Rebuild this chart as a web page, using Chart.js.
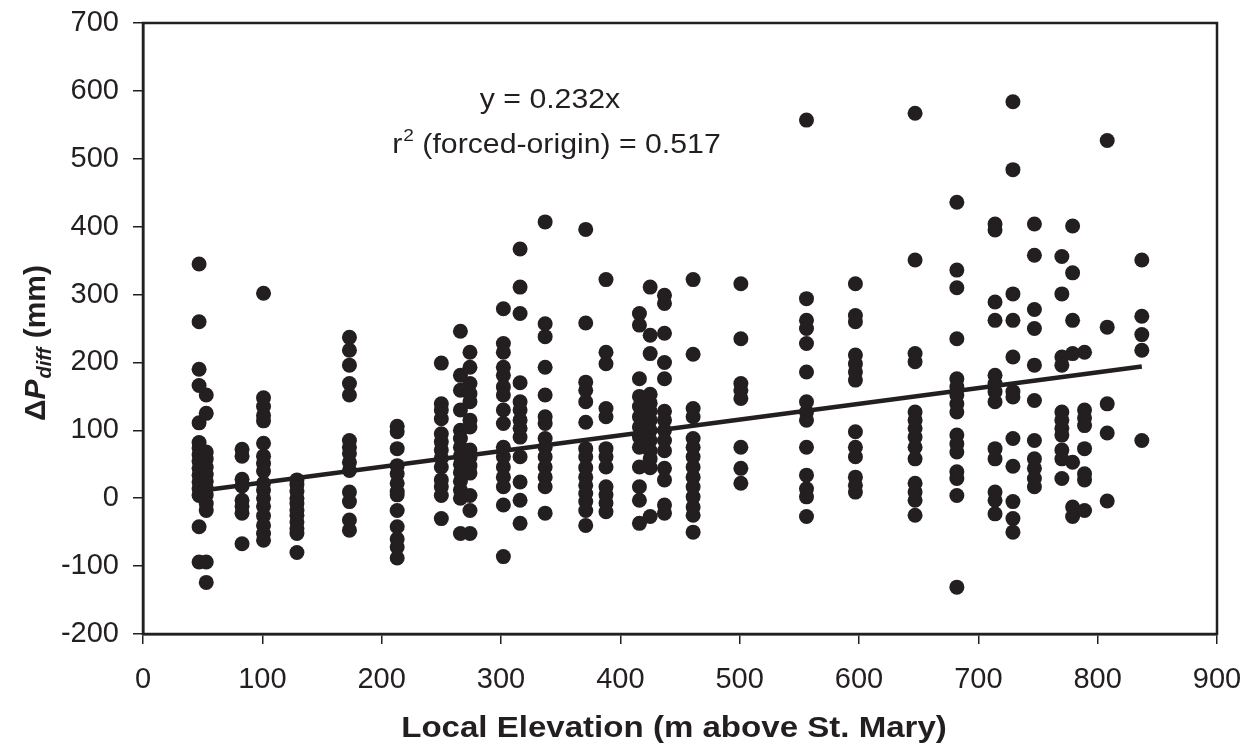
<!DOCTYPE html>
<html>
<head>
<meta charset="utf-8">
<script src="https://cdn.jsdelivr.net/npm/chart.js@4.4.1/dist/chart.umd.min.js"></script>
<style>
  html, body { margin: 0; padding: 0; background: #fff; }
  canvas { display: block; }
</style>
</head>
<body>
<canvas id="elevChart" width="1252" height="744"></canvas>
<script>
// elevation of each station column (m above St. Mary)
const elevations = [47, 53, 83, 101, 129, 173, 213, 250, 266, 274, 302, 316, 337, 371, 388, 416, 425, 437,
    461, 501, 556, 597, 647, 682, 714, 729, 747, 770, 779, 789, 808, 837];

// delta P diff values (mm) for each column above
const deltaP = [
    [345, 260, 190, 166, 111, 82, 74, 64, 54, 44, 34, 24, 14, 4, -42, -94],
    [152, 125, 68, 58, 46, 35, 25, 15, 5, -8, -18, -94, -124],
    [72, 62, 28, 18, -3, -12, -22, -67],
    [302, 148, 135, 122, 114, 81, 62, 51, 40, 22, 12, 0, -12, -26, -40, -52, -62],
    [27, 20, 10, 0, -8, -18, -25, -35, -45, -52, -80],
    [237, 218, 196, 169, 152, 85, 75, 66, 53, 41, 9, -5, -32, -47],
    [106, 98, 73, 48, 36, 22, 10, 5, -18, -42, -60, -72, -88],
    [199, 139, 130, 117, 95, 83, 71, 59, 46, 27, 17, 4, -30],
    [246, 181, 159, 130, 100, 88, 75, 62, 50, 38, 25, 12, 0, -52],
    [215, 193, 169, 154, 142, 115, 105, 71, 60, 48, 37, 4, -18, -52],
    [279, 228, 215, 193, 181, 164, 152, 130, 110, 75, 61, 46, 31, 17, -10, -86],
    [367, 311, 272, 170, 142, 130, 115, 103, 90, 61, 24, -3, -37],
    [407, 257, 238, 193, 152, 120, 110, 88, 75, 61, 46, 31, 17, -22],
    [396, 258, 171, 159, 142, 112, 73, 61, 45, 31, 19, 7, -5, -18, -40],
    [322, 215, 198, 132, 120, 73, 61, 46, 17, 5, -7, -20],
    [272, 255, 176, 150, 135, 120, 105, 90, 75, 46, 17, -3, -37],
    [311, 240, 213, 153, 140, 128, 115, 100, 85, 70, 58, 45, -27],
    [299, 287, 243, 200, 176, 128, 115, 100, 85, 70, 44, 27, -10, -22],
    [322, 212, 132, 120, 88, 75, 61, 46, 31, 17, 2, -13, -25, -50],
    [316, 235, 169, 159, 147, 75, 44, 22],
    [557, 294, 262, 250, 228, 186, 142, 127, 115, 75, 34, 14, 2, -27],
    [316, 269, 260, 211, 198, 186, 174, 98, 75, 61, 31, 19, 9],
    [567, 351, 213, 201, 127, 115, 103, 90, 75, 58, 22, 9, -3, -25],
    [436, 336, 310, 235, 176, 164, 152, 139, 127, 93, 80, 68, 39, 29, 4, -131],
    [404, 395, 289, 262, 181, 169, 157, 142, 73, 58, 9, -3, -23],
    [584, 484, 301, 262, 208, 157, 149, 88, 47, -5, -30, -50],
    [404, 358, 278, 250, 196, 144, 85, 58, 44, 29, 17],
    [356, 301, 208, 196, 127, 115, 103, 93, 71, 58, 29],
    [401, 332, 262, 213, 53, -13, -27],
    [215, 130, 118, 107, 73, 36, 27, -18],
    [527, 252, 139, 96, -4],
    [351, 268, 241, 218, 85]
];

// forced-origin regression line end points
const fitX = [53, 837];
const fitY = [12, 194];

const xRange = [0, 900];
const yRange = [-200, 700];
const tickStep = 100;

const ink = '#231f20';
const fontFamily = '"Liberation Sans", Arial, Helvetica, sans-serif';

const points = [];
elevations.forEach((x, i) => {
    deltaP[i].forEach(y => points.push({ x: x, y: y }));
});
const fitLine = fitX.map((x, i) => ({ x: x, y: fitY[i] }));

// draws text stretched horizontally
function stretchText(ctx, text, x, y, font, sx, align) {
    ctx.save();
    ctx.font = font;
    ctx.translate(x, y);
    ctx.scale(sx, 1);
    ctx.textAlign = align || 'left';
    ctx.textBaseline = 'alphabetic';
    ctx.fillText(text, 0, 0);
    ctx.restore();
}

const framePlugin = {
    id: 'frame',
    afterDraw(chart) {
        const ctx = chart.ctx;
        const a = chart.chartArea;
        ctx.save();
        ctx.strokeStyle = ink;
        ctx.lineWidth = 2.5;
        ctx.strokeRect(a.left, a.top, a.right - a.left, a.bottom - a.top);
        ctx.restore();
    }
};

const textPlugin = {
    id: 'labels',
    afterDraw(chart) {
        const ctx = chart.ctx;
        ctx.save();
        ctx.fillStyle = ink;

        // equation
        const sx = 1.12;
        const big = '27px ' + fontFamily;
        const small = '17px ' + fontFamily;
        stretchText(ctx, 'y = 0.232x', 550, 108, big, sx, 'center');

        ctx.font = big;
        const w1 = ctx.measureText('r').width * sx;
        ctx.font = small;
        const w2 = ctx.measureText('2').width * sx;
        ctx.font = big;
        const rest = ' (forced-origin) = 0.517';
        const w3 = ctx.measureText(rest).width * sx;
        let x0 = 556 - (w1 + w2 + w3) / 2;
        stretchText(ctx, 'r', x0, 153, big, sx);
        stretchText(ctx, '2', x0 + w1 + 1, 141, small, sx);
        stretchText(ctx, rest, x0 + w1 + w2 + 1, 153, big, sx);

        // x axis title
        stretchText(ctx, 'Local Elevation (m above St. Mary)', 674, 737, 'bold 29px ' + fontFamily, 1.14, 'center');

        // y axis title, rotated
        ctx.translate(45, 343);
        ctx.rotate(-Math.PI / 2);
        const fBig = 'bold 30px ' + fontFamily;
        const fIt = 'italic bold 30px ' + fontFamily;
        const fSub = 'italic bold 20px ' + fontFamily;
        ctx.font = fBig;
        const a1 = ctx.measureText('\u0394').width;
        ctx.font = fIt;
        const a2 = ctx.measureText('P').width;
        ctx.font = fSub;
        const a3 = ctx.measureText('diff').width;
        ctx.font = fBig;
        const a4 = ctx.measureText(' (mm)').width;
        let px = -(a1 + a2 + a3 + a4 + 2) / 2;
        ctx.textBaseline = 'alphabetic';
        ctx.font = fBig;
        ctx.fillText('\u0394', px, 0);
        px += a1;
        ctx.font = fIt;
        ctx.fillText('P', px, 0);
        px += a2 + 1;
        ctx.font = fSub;
        ctx.fillText('diff', px, 6);
        px += a3 + 1;
        ctx.font = fBig;
        ctx.fillText(' (mm)', px, 0);
        ctx.restore();
    }
};

const config = {
    type: 'scatter',
    data: {
        datasets: [
            {
                data: points,
                backgroundColor: ink,
                borderWidth: 0,
                pointRadius: 7.5,
                pointHoverRadius: 7.5,
                order: 2
            },
            {
                type: 'line',
                data: fitLine,
                borderColor: ink,
                borderWidth: 4.5,
                pointRadius: 0,
                fill: false,
                order: 1
            }
        ]
    },
    options: {
        responsive: false,
        animation: false,
        layout: { padding: { top: 23, right: 35, left: 0, bottom: 0 } },
        plugins: {
            legend: { display: false },
            tooltip: { enabled: false }
        },
        scales: {
            x: {
                type: 'linear',
                min: xRange[0],
                max: xRange[1],
                ticks: {
                    stepSize: tickStep,
                    color: ink,
                    font: { family: fontFamily, size: 29 },
                    padding: 19,
                    maxRotation: 0
                },
                grid: { drawOnChartArea: false, drawTicks: true, tickLength: 10, color: ink, lineWidth: 1.5 },
                border: { color: ink, width: 2.5 },
                afterFit: scale => {
                    scale.height = 110;
                    scale.paddingLeft = 0;
                    scale.paddingRight = 0;
                }
            },
            y: {
                type: 'linear',
                min: yRange[0],
                max: yRange[1],
                ticks: {
                    stepSize: tickStep,
                    color: ink,
                    font: { family: fontFamily, size: 29 },
                    padding: 14
                },
                grid: { drawOnChartArea: false, drawTicks: true, tickLength: 10, color: ink, lineWidth: 1.5 },
                border: { color: ink, width: 2.5 },
                afterFit: scale => {
                    scale.width = 143;
                    scale.paddingTop = 0;
                    scale.paddingBottom = 0;
                }
            }
        }
    },
    plugins: [framePlugin, textPlugin]
};

const ctx = document.getElementById('elevChart').getContext('2d');
new Chart(ctx, config);
</script>
</body>
</html>
